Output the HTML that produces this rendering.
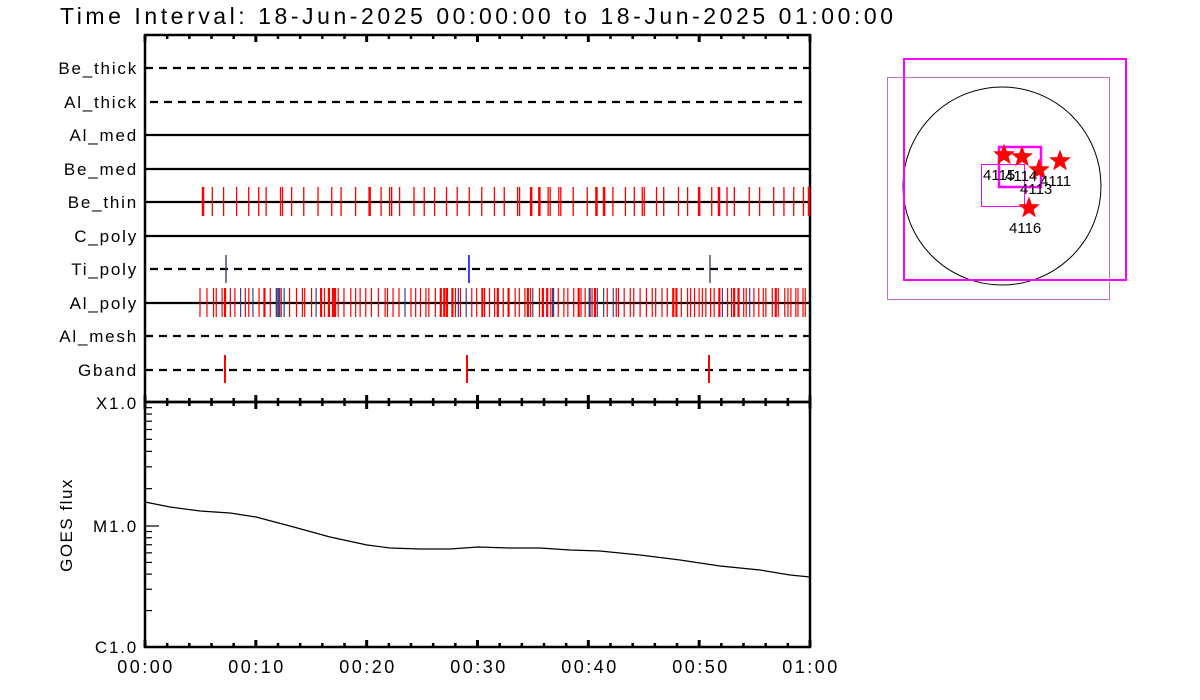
<!DOCTYPE html>
<html><head><meta charset="utf-8"><style>
html,body{margin:0;padding:0;background:#fff;}
svg{display:block;font-family:"Liberation Sans",sans-serif;}
</style></head><body>
<svg id="s" width="1200" height="700" xmlns="http://www.w3.org/2000/svg">
<rect width="1200" height="700" fill="#fff"/>
<text x="60" y="24" font-size="23" fill="#000" textLength="833" lengthAdjust="spacing">Time Interval: 18-Jun-2025 00:00:00 to 18-Jun-2025 01:00:00</text>
<g id="gtop"></g>
<g id="gbot"></g>
<g font-size="17" text-anchor="end" fill="#000" letter-spacing="1.8">
<text x="138" y="74">Be_thick</text>
<text x="138" y="108">Al_thick</text>
<text x="138" y="141">Al_med</text>
<text x="138" y="175">Be_med</text>
<text x="138" y="208">Be_thin</text>
<text x="138" y="242">C_poly</text>
<text x="138" y="275">Ti_poly</text>
<text x="138" y="309">Al_poly</text>
<text x="138" y="342">Al_mesh</text>
<text x="138" y="376">Gband</text>
<text x="138" y="409">X1.0</text>
<text x="138" y="532">M1.0</text>
<text x="138" y="653">C1.0</text>
</g>
<text transform="translate(72,525) rotate(-90)" font-size="17" text-anchor="middle" letter-spacing="1.5">GOES flux</text>
<g font-size="18" text-anchor="middle" letter-spacing="2.5">
<text x="146" y="673">00:00</text><text x="257" y="673">00:10</text><text x="368" y="673">00:20</text>
<text x="479" y="673">00:30</text><text x="590" y="673">00:40</text><text x="701" y="673">00:50</text><text x="811" y="673">01:00</text>
</g>
<polyline fill="none" stroke="#000" stroke-width="1.2" points="145,502 170,507 200,511 230,513 256,517 290,526 330,537 367,545 390,548 420,549 450,549 478,547 510,548 540,548 570,550 600,551 640,555 680,560 720,566 760,570 790,575 810,577"/>
<circle cx="1002" cy="186" r="99" fill="none" stroke="#000" stroke-width="1"/>
<rect x="904" y="59" width="222" height="221" fill="none" stroke="#f0f" stroke-width="2"/>
<rect x="887.5" y="77.5" width="222" height="222" fill="none" stroke="#c070c0" stroke-width="1"/>
<rect x="999" y="147" width="42" height="40" fill="none" stroke="#f0f" stroke-width="2.5"/>
<rect x="981.5" y="164.5" width="43" height="42" fill="none" stroke="#f0f" stroke-width="1"/>
<g id="stars" fill="#f00"></g>
<g font-size="15" fill="#000">
<text x="983" y="180">4115</text><text x="1005" y="181">4114</text><text x="1040" y="186">4111</text>
<text x="1020" y="194">4113</text><text x="1009" y="233">4116</text>
</g>
</svg>
<script>
(function(){
var NS="http://www.w3.org/2000/svg";
function el(p,t,a){var e=document.createElementNS(NS,t);for(var k in a)e.setAttribute(k,a[k]);p.appendChild(e);return e;}
var gt=document.getElementById('gtop'),gb=document.getElementById('gbot');
var X0=145,X1=810,W=X1-X0;
el(gt,'rect',{x:X0,y:35,width:W,height:367,fill:'none',stroke:'#000','stroke-width':2.5});
el(gb,'rect',{x:X0,y:402,width:W,height:245,fill:'none',stroke:'#000','stroke-width':2.5});
for(var i=0;i<=30;i++){var x=X0+W*i/30,maj=(i%5==0),h=maj?7:4,w=maj?3:2.5;
 [35,402].forEach(function(y){el(gt,'line',{x1:x,x2:x,y1:y,y2:y+h,stroke:'#000','stroke-width':w});});
 [402,647].forEach(function(y){el(gt,'line',{x1:x,x2:x,y1:y,y2:y-h,stroke:'#000','stroke-width':w});});
}
[[402,526],[526,647]].forEach(function(d){var h=d[1]-d[0];
 for(var k=2;k<=9;k++){var y=d[1]-Math.log10(k)*h;el(gb,'line',{x1:X0,x2:X0+7,y1:y,y2:y,stroke:'#000','stroke-width':1.2});}
});
el(gb,'line',{x1:X0,x2:X0+14,y1:526,y2:526,stroke:'#000','stroke-width':1.2});
el(gb,'line',{x1:X0,x2:X0+14,y1:402,y2:402,stroke:'#000','stroke-width':1.2});
var rows=[[68,1],[102,1],[135,0],[169,0],[202,0],[236,0],[269,1],[303,0],[336,1],[370,1]];
rows.forEach(function(r){var sh=(r[0]==102||r[0]==269);var a={x1:sh?150:X0,x2:sh?806:X1,y1:r[0],y2:r[0],stroke:'#000','stroke-width':2.2};
 if(r[1])a['stroke-dasharray']='8,6';el(gt,'line',a);});
var sd=7;function rnd(){sd=(sd*16807)%2147483647;return sd/2147483647;}
function tick(x,y1,y2,c,w){el(gt,'line',{x1:x,x2:x,y1:y1,y2:y2,stroke:c,'stroke-width':w||1.3});}
var x=203;while(x<809){tick(x,187,216,'#f00',rnd()<0.2?2.5:1.3);if(rnd()<0.15)tick(x+2,187,216,'#f00');x+=7+rnd()*8;}
tick(809,187,216,'#f00',2.5);
x=200;while(x<809){tick(x,288,317,rnd()<0.15?'#404080':'#f00',rnd()<0.2?2.2:1.2);x+=2+rnd()*5;}
tick(226,255,283,'#335',1.3);tick(469,255,283,'#00f',1.5);tick(710,255,283,'#335',1.3);
tick(225,355,383,'#f00',2);tick(467,355,383,'#f00',2);tick(709,355,383,'#f00',2);
var st=document.getElementById('stars');
function star(cx,cy,r){var p=[];for(var i=0;i<10;i++){var a=-Math.PI/2+i*Math.PI/5,rr=i%2?r*0.42:r;p.push((cx+rr*Math.cos(a)).toFixed(1)+','+(cy+rr*Math.sin(a)).toFixed(1));}
 el(st,'polygon',{points:p.join(' ')});}
[[1004,155],[1022,157],[1039,170],[1060,161],[1029,208]].forEach(function(s){star(s[0],s[1],11.5);});
})();
</script>
</body></html>
